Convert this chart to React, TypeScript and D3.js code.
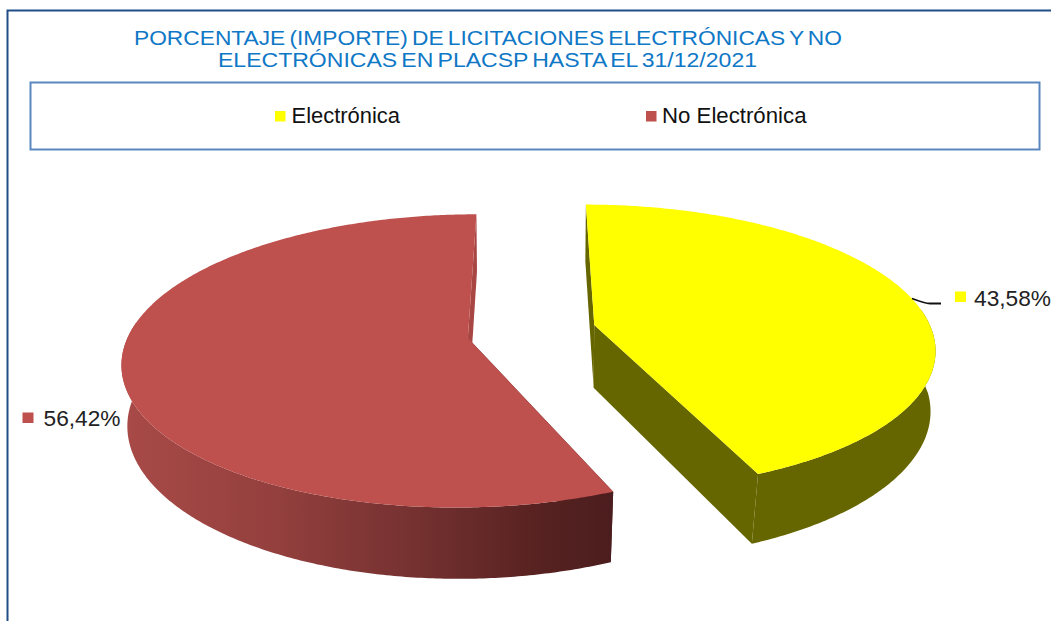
import React from "react";
import * as d3 from "d3";

const categories = ["Electrónica", "No Electrónica"];
const shares = [43.58, 56.42];
const shareLabels = ["43,58%", "56,42%"];
const titleLines = [
  "PORCENTAJE (IMPORTE) DE LICITACIONES ELECTRÓNICAS Y NO",
  "ELECTRÓNICAS EN PLACSP HASTA EL 31/12/2021",
];
const topColors = ["#ffff00", "#be504d"];
const explodeX = [0.187, -0.187];
const explodeZ = [0.046, -0.046];

const W = 1051;
const H = 621;
const FONT = "'Liberation Sans', Arial, sans-serif";

// Perspective projection of the pie's ground plane
const x0 = 531.5;
const y0 = 331.5;
const A = 338;
const C = 141;
const P = 0.155;
const DEPTH = 63;

type Pt = [number, number];
const top = (X: number, Z: number): Pt => {
  const w = 1 + P * Z;
  return [x0 + (A * X) / w, y0 - (C * Z) / w];
};
const bottom = (X: number, Z: number): Pt => {
  const w = 1 + P * Z;
  const [sx, sy] = top(X, Z);
  const s = 0.99 + 0.02 * Math.min(Z, 0);
  return [x0 + s * (sx - x0), sy + DEPTH / Math.pow(w, 0.7)];
};

const pie = d3.pie<number>().sort(null).value((d) => d);
const arcs = pie(shares);
const line = d3.line<Pt>();

const sampleAngles = (a: number, b: number) => {
  const n = Math.ceil((b - a) / 0.01);
  return d3.range(n + 1).map((i) => a + ((b - a) * i) / n);
};

export default function App() {
  const slices = arcs.map((arc, i) => {
    const cx = explodeX[i];
    const cz = explodeZ[i];
    const angles = sampleAngles(arc.startAngle, arc.endAngle);
    const rim = angles.map((t): [number, number] => [cx + Math.sin(t), cz + Math.cos(t)]);
    const topRim = rim.map(([X, Z]) => top(X, Z));
    const botRim = rim.map(([X, Z]) => bottom(X, Z));
    // only the near part of the rim shows a wall
    const nearRim = rim.filter(([, Z]) => Z - cz < 0.12);
    const nearTop = nearRim.map(([X, Z]) => top(X, Z));
    const nearBot = nearRim.map(([X, Z]) => bottom(X, Z));
    const topApex = top(cx, cz);
    const botApex = bottom(cx, cz);
    const topPath = line([topApex, ...topRim]) + "Z";
    const wallPath = line([...nearTop, ...nearBot.slice().reverse()]) + "Z";
    const startWall = line([topApex, topRim[0], botRim[0], botApex]) + "Z";
    const endWall =
      line([topApex, topRim[topRim.length - 1], botRim[botRim.length - 1], botApex]) + "Z";
    return { topPath, wallPath, startWall, endWall };
  });

  return (
    <svg
      width={W}
      height={H}
      viewBox={`0 0 ${W} ${H}`}
      style={{ position: "fixed", left: 0, top: 0, background: "#fff", display: "block" }}
    >
      <defs>
        <linearGradient id="redWall" gradientUnits="userSpaceOnUse" x1={125} y1={0} x2={612} y2={0}>
          <stop offset="0" stopColor="#a84a47" />
          <stop offset="0.3" stopColor="#94403e" />
          <stop offset="0.6" stopColor="#743130" />
          <stop offset="0.85" stopColor="#572221" />
          <stop offset="1" stopColor="#4c1d1e" />
        </linearGradient>
      </defs>

      {/* outer chart frame */}
      <path d="M7.5,621V10.5H1051" fill="none" stroke="#1f4e87" strokeWidth={2} />

      {/* title */}
      <g fontFamily={FONT} fontSize={21} fill="#0f78c6" textAnchor="middle" wordSpacing={-2}>
        <text x={488} y={45} textLength={708} lengthAdjust="spacingAndGlyphs">{titleLines[0]}</text>
        <text x={487.5} y={67} textLength={539} lengthAdjust="spacingAndGlyphs">{titleLines[1]}</text>
      </g>

      {/* legend */}
      <rect x={30.5} y={82.5} width={1009} height={67} fill="#fff" stroke="#5b87c1" strokeWidth={2} />
      <g fontFamily={FONT} fontSize={21.5} fill="#111">
        <rect x={275} y={111} width={10.5} height={10.5} fill={topColors[0]} />
        <text x={291.5} y={122.5} textLength={108.5} lengthAdjust="spacingAndGlyphs">{categories[0]}</text>
        <rect x={646} y={111} width={10.5} height={10.5} fill={topColors[1]} />
        <text x={662} y={122.5} textLength={144.5} lengthAdjust="spacingAndGlyphs">{categories[1]}</text>
      </g>

      {/* pie slices */}
      <g>
        <path d={slices[1].startWall} fill="#4c1d1e" />
        <path d={slices[1].wallPath} fill="url(#redWall)" />
        <path d={slices[1].endWall} fill="#a84644" />
        <path d={slices[1].topPath} fill={topColors[1]} />
        <path d={slices[0].startWall} fill="#666600" />
        <path d={slices[0].endWall} fill="#666600" />
        <path d={slices[0].wallPath} fill="#666600" />
        <path d={slices[0].topPath} fill={topColors[0]} />
      </g>

      {/* data labels */}
      <path d="M912,298.5Q925,303.5 930,303.5H941" fill="none" stroke="#111" strokeWidth={1.8} />
      <g fontFamily={FONT} fontSize={21.5} fill="#222">
        <rect x={955} y={291.5} width={11} height={10.5} fill={topColors[0]} />
        <text x={974} y={306} textLength={77} lengthAdjust="spacingAndGlyphs">{shareLabels[0]}</text>
        <rect x={22.5} y={412.5} width={11} height={10.5} fill={topColors[1]} />
        <text x={43.5} y={426} textLength={77} lengthAdjust="spacingAndGlyphs">{shareLabels[1]}</text>
      </g>
    </svg>
  );
}
